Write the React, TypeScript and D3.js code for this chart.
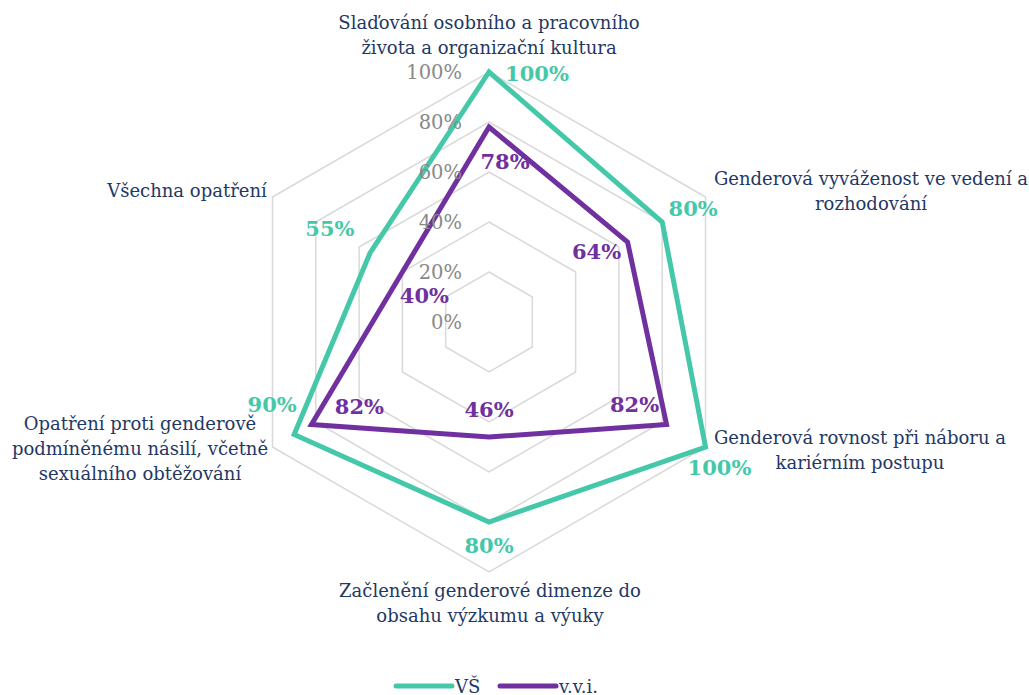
import React, { useEffect, useRef } from 'react';
import * as d3 from 'd3';

// categories, clockwise from the top
const categories = [
  ['Slaďování osobního a pracovního', 'života a organizační kultura'],
  ['Genderová vyváženost ve vedení a', 'rozhodování'],
  ['Genderová rovnost při náboru a', 'kariérním postupu'],
  ['Začlenění genderové dimenze do', 'obsahu výzkumu a výuky'],
  ['Opatření proti genderově', 'podmíněnému násilí, včetně', 'sexuálního obtěžování'],
  ['Všechna opatření'],
];
const seriesNames = ['VŠ', 'v.v.i.'];
const vsValues = [1.0, 0.8, 1.0, 0.8, 0.9, 0.55];
const vviValues = [0.78, 0.64, 0.82, 0.46, 0.82, 0.4];
const tickValues = [0, 0.2, 0.4, 0.6, 0.8, 1.0];

const COLORS = ['#45C8A9', '#7030A0'];
const NAVY = '#1F3864';
const FONT = '"DejaVu Serif", serif';

// label placement (offsets from the point, in px)
const labelOffsets = [
  [[48, 1], [31, -14], [14, 20], [0, 23], [-22, -30], [-40, -25]],
  [[16, 34], [-31, 9], [-32, -20], [0, -28], [48, -18], [22, 23]],
];
const catAnchors: [number, number][] = [
  [489, 22],
  [871, 178],
  [860, 437],
  [490, 590],
  [140, 423],
  [187, 190],
];

export default function App() {
  const ref = useRef<SVGSVGElement>(null);

  useEffect(() => {
    const width = 1029;
    const height = 695;
    const cx = 489;
    const cy = 322;
    const radius = 250;
    const svg = d3.select(ref.current);
    svg.selectAll('*').remove();
    svg.attr('width', width).attr('height', height);

    const r = d3.scaleLinear().domain([0, 1]).range([0, radius]);
    const angle = d3.scaleLinear().domain([0, categories.length]).range([0, 2 * Math.PI]);
    const px = (i, v) => cx + r(v) * Math.sin(angle(i));
    const py = (i, v) => cy - r(v) * Math.cos(angle(i));

    const g = svg.append('g').attr('transform', `translate(${cx},${cy})`);

    const radial = d3.lineRadial<number>()
      .angle((d, i) => angle(i))
      .radius(d => r(d))
      .curve(d3.curveLinearClosed);

    // grid rings
    tickValues.slice(1).forEach(t => {
      g.append('path')
        .attr('d', radial(categories.map(() => t)))
        .attr('fill', 'none')
        .attr('stroke', '#D9D9D9')
        .attr('stroke-width', 1.5);
    });

    // series
    const allSeries = [vsValues, vviValues];
    allSeries.forEach((vals, s) => {
      g.append('path')
        .attr('d', radial(vals))
        .attr('fill', 'none')
        .attr('stroke', COLORS[s])
        .attr('stroke-width', 5)
        .attr('stroke-linejoin', 'miter');
    });

    // tick labels
    tickValues.forEach(t => {
      svg.append('text')
        .attr('x', cx - 27)
        .attr('y', cy - r(t))
        .attr('text-anchor', 'end')
        .attr('dominant-baseline', 'central')
        .attr('font-family', FONT)
        .attr('font-size', 19.5)
        .attr('fill', '#898989')
        .text(d3.format('.0%')(t));
    });

    // data labels
    allSeries.forEach((vals, s) => {
      vals.forEach((v, i) => {
        svg.append('text')
          .attr('x', px(i, v) + labelOffsets[s][i][0])
          .attr('y', py(i, v) + labelOffsets[s][i][1])
          .attr('text-anchor', 'middle')
          .attr('dominant-baseline', 'central')
          .attr('font-family', FONT)
          .attr('font-weight', 'bold')
          .attr('font-size', 21)
          .attr('fill', COLORS[s])
          .text(d3.format('.0%')(v));
      });
    });

    // category labels
    categories.forEach((lines, i) => {
      const [x, y] = catAnchors[i];
      const t = svg.append('text')
        .attr('text-anchor', 'middle')
        .attr('font-family', FONT)
        .attr('font-size', 18)
        .attr('fill', NAVY);
      lines.forEach((line, k) => {
        t.append('tspan')
          .attr('x', x)
          .attr('y', y + k * 25)
          .attr('dominant-baseline', 'central')
          .text(line);
      });
    });

    // legend
    const legend = svg.append('g').attr('transform', 'translate(0,686)');
    const legendX = [396, 500];
    seriesNames.forEach((name, s) => {
      legend.append('line')
        .attr('x1', legendX[s]).attr('x2', legendX[s] + 56)
        .attr('y1', 0).attr('y2', 0)
        .attr('stroke', COLORS[s])
        .attr('stroke-width', 5)
        .attr('stroke-linecap', 'round');
      legend.append('text')
        .attr('x', legendX[s] + 59)
        .attr('y', 0)
        .attr('dominant-baseline', 'central')
        .attr('font-family', FONT)
        .attr('font-size', 18)
        .attr('fill', NAVY)
        .text(name);
    });
  }, []);

  return (
    <svg ref={ref} style={{ position: 'absolute', left: 0, top: 0, display: 'block' }} />
  );
}
